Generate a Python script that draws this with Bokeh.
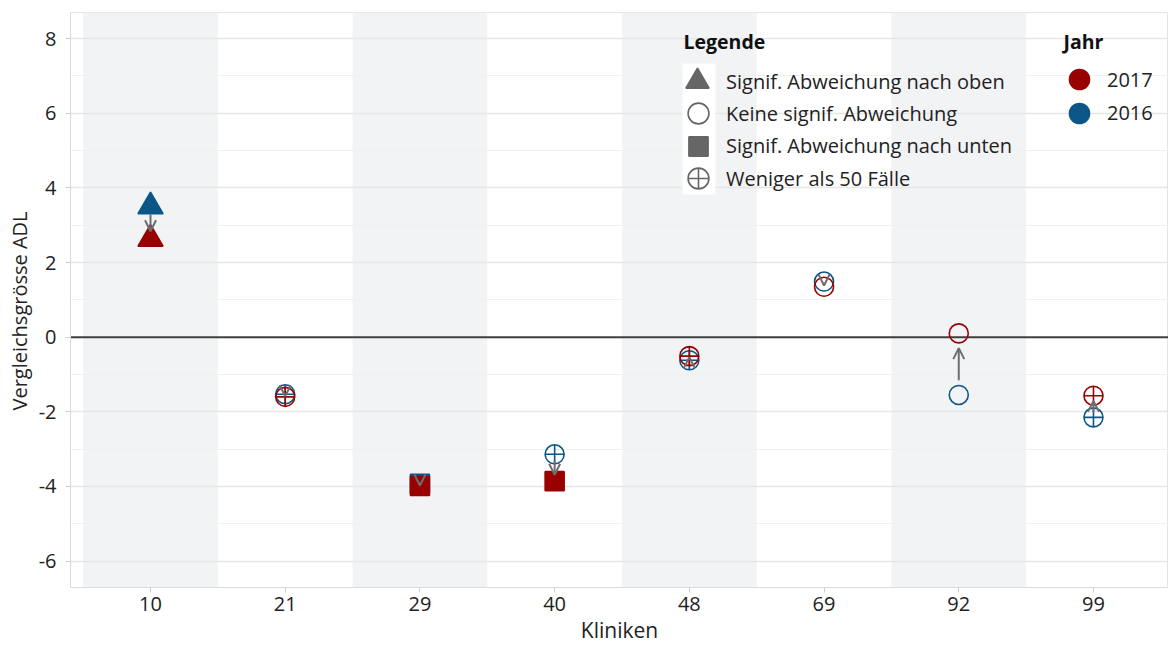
import numpy as np
from bokeh.plotting import figure
from bokeh.models import (Range1d, FixedTicker, BoxAnnotation, Span, Arrow, OpenHead,
                          Legend, LegendItem, Label, Title, ColumnDataSource)
from bokeh.embed import file_html
from bokeh.resources import INLINE

# ---------------- data ----------------
kliniken = ["10", "21", "29", "40", "48", "69", "92", "99"]
wert_2017 = [2.63, -1.60, -3.99, -3.86, -0.51, 1.35, 0.10, -1.57]
wert_2016 = [3.50, -1.53, -3.93, -3.14, -0.62, 1.49, -1.55, -2.15]
status_2017 = ["oben", "wenig", "unten", "unten", "wenig", "keine", "keine", "wenig"]
status_2016 = ["oben", "wenig", "unten", "wenig", "wenig", "keine", "keine", "wenig"]
jahre = ["2017", "2016"]
status_order = ["oben", "keine", "unten", "wenig"]
status_labels = ["Signif. Abweichung nach oben", "Keine signif. Abweichung",
                 "Signif. Abweichung nach unten", "Weniger als 50 Fälle"]
y_ticks = [-6, -4, -2, 0, 2, 4, 6, 8]
y_minor = [-5, -3, -1, 1, 3, 5, 7]

# ---------------- styles ----------------
FONT = "Open Sans"
RED = "#990000"
BLUE = "#0b5686"
GREY = "#666666"
TXT = "#222222"
BAND = "#f2f3f5"
marker_of = {"oben": "triangle", "keine": "circle", "unten": "square", "wenig": "circle_cross"}
filled_of = {"oben": True, "keine": False, "unten": True, "wenig": False}
size_of = {"oben": 25, "keine": 19, "unten": 19, "wenig": 19}
legend_size_of = {"oben": 23.2, "keine": 21, "unten": 19, "wenig": 21}
legend_cx_of = {"oben": 697, "keine": 698, "unten": 698, "wenig": 698}

n = len(kliniken)
xs = [i + 1 for i in range(n)]

p = figure(width=1168, height=646, output_backend="svg", toolbar_location=None,
           x_range=Range1d(0.406, 8.557), y_range=Range1d(-6.71, 8.70),
           min_border_left=70, min_border_right=0, min_border_top=12, min_border_bottom=59)
p.background_fill_color = "white"
p.border_fill_color = "white"
p.outline_line_color = "#e4e4e4"
p.outline_line_width = 1

# alternating bands
bands = []
for i in range(0, n, 2):
    b = BoxAnnotation(left=xs[i] - 0.5, right=xs[i] + 0.5, fill_color=BAND, fill_alpha=1.0,
                      line_alpha=0, level="underlay")
    bands.append(b)
p.center = bands + list(p.center)

# grid
yt = FixedTicker(ticks=y_ticks, minor_ticks=y_minor)
p.yaxis.ticker = yt
p.ygrid.ticker = yt
p.ygrid.grid_line_color = "#e6e6e6"
p.ygrid.grid_line_width = 1.3
p.ygrid.minor_grid_line_color = "#f0f0f0"
p.ygrid.minor_grid_line_width = 1
p.xgrid.grid_line_color = None

p.add_layout(Span(location=0, dimension="width", line_color="#404040", line_width=2,
                  level="underlay"))

# axes
p.xaxis.ticker = FixedTicker(ticks=xs)
p.xaxis.major_label_overrides = {x: k for x, k in zip(xs, kliniken)}
p.yaxis.major_label_overrides = {t: str(t) for t in y_ticks}
for ax in (p.xaxis[0], p.yaxis[0]):
    ax.axis_line_color = "#dcdcdc"
    ax.axis_line_width = 1
    ax.major_tick_line_color = "#cfcfcf"
    ax.major_tick_in = 0
    ax.major_tick_out = 5
    ax.minor_tick_line_color = None
    ax.major_label_text_font = FONT
    ax.major_label_text_font_size = "20px"
    ax.major_label_text_color = TXT
    ax.axis_label_text_font = FONT
    ax.axis_label_text_font_size = "21px"
    ax.axis_label_text_font_style = "normal"
    ax.axis_label_text_color = TXT
p.xaxis.major_label_standoff = 4
p.yaxis.major_label_standoff = 9
p.xaxis.axis_label = "Kliniken"
p.xaxis.axis_label_standoff = 2

ytitle = Title(text="Vergleichsgrösse ADL", align="left", offset=177, standoff=6,
               text_font=FONT, text_font_size="20px", text_font_style="normal",
               text_color=TXT)
p.add_layout(ytitle, "left")

# data points
def year_source(vals, stats):
    return ColumnDataSource(dict(
        x=xs, y=vals,
        marker=[marker_of[s] for s in stats],
        size=[size_of[s] for s in stats],
        fa=[1.0 if filled_of[s] else 0.0 for s in stats],
    ))

for vals, stats, color in ((wert_2016, status_2016, BLUE), (wert_2017, status_2017, RED)):
    src = year_source(vals, stats)
    p.scatter(x="x", y="y", marker="marker", size="size", source=src,
              fill_color=color, fill_alpha="fa", line_color=color, line_width=1.6)

# arrows 2016 -> 2017
shrink = 0.24
ys = [a + shrink * (b - a) for a, b in zip(wert_2016, wert_2017)]
ye = [b - shrink * (b - a) for a, b in zip(wert_2016, wert_2017)]
asrc = ColumnDataSource(dict(x=xs, ys=ys, ye=ye))
p.add_layout(Arrow(x_start="x", y_start="ys", x_end="x", y_end="ye", source=asrc,
                   line_color="#6e6e6e", line_width=2,
                   end=OpenHead(size=11, line_color="#6e6e6e", line_width=2)))

# ---------------- legends ----------------
FRAME_L, FRAME_B = 70, 587  # frame position on the page

def to_frame(xi, yi):
    return xi - FRAME_L, FRAME_B - yi

# white key background
kl, kt = to_frame(682, 63)
kr, kb = to_frame(715, 194)
p.add_layout(BoxAnnotation(left=kl, right=kr, top=kt, bottom=kb,
                           left_units="screen", right_units="screen",
                           top_units="screen", bottom_units="screen",
                           fill_color="white", fill_alpha=1.0, line_alpha=0,
                           level="annotation"))

def add_key(marker, size, fill, fill_alpha, line, label, cx, cy, label_left):
    W = int(round(size / 0.4))
    r = p.scatter(x=np.array([np.nan]), y=np.array([np.nan]), marker=marker, size=size,
                  fill_color=fill, fill_alpha=fill_alpha, line_color=line, line_width=1.6)
    lx, ly = to_frame(cx - W / 2, cy + W / 2)
    standoff = max(0, int(round(label_left - (cx + W / 2))))
    leg = Legend(items=[LegendItem(label=label, renderers=[r])], location=(lx, ly),
                 glyph_width=W, glyph_height=W, label_standoff=standoff,
                 padding=0, margin=0, spacing=0, border_line_alpha=0,
                 background_fill_alpha=0, label_text_font=FONT,
                 label_text_font_size="20px", label_text_color=TXT)
    p.add_layout(leg)

key_cy = [81.3, 113, 145.5, 178.3]
for s, lab, cy in zip(status_order, status_labels, key_cy):
    add_key(marker_of[s], legend_size_of[s], GREY, 1.0 if filled_of[s] else 0.0, GREY,
            lab, legend_cx_of[s], cy, 726)

for jahr, color, cy in zip(jahre, (RED, BLUE), (79.3, 112.7)):
    add_key("circle", 20, color, 1.0, color, jahr, 1079, cy, 1107)

def add_text(text, xi, yi, size, bold=False):
    fx, fy = to_frame(xi, yi)
    p.add_layout(Label(x=fx, y=fy, x_units="screen", y_units="screen", text=text,
                       text_font=FONT, text_font_size=size,
                       text_font_style="bold" if bold else "normal",
                       text_color="#111111", text_baseline="alphabetic",
                       text_align="left"))

add_text("Legende", 683, 40.5, "19.5px", bold=True)
add_text("Jahr", 1063, 40.5, "19.5px", bold=True)

open("out.html", "w").write(file_html(p, INLINE))
